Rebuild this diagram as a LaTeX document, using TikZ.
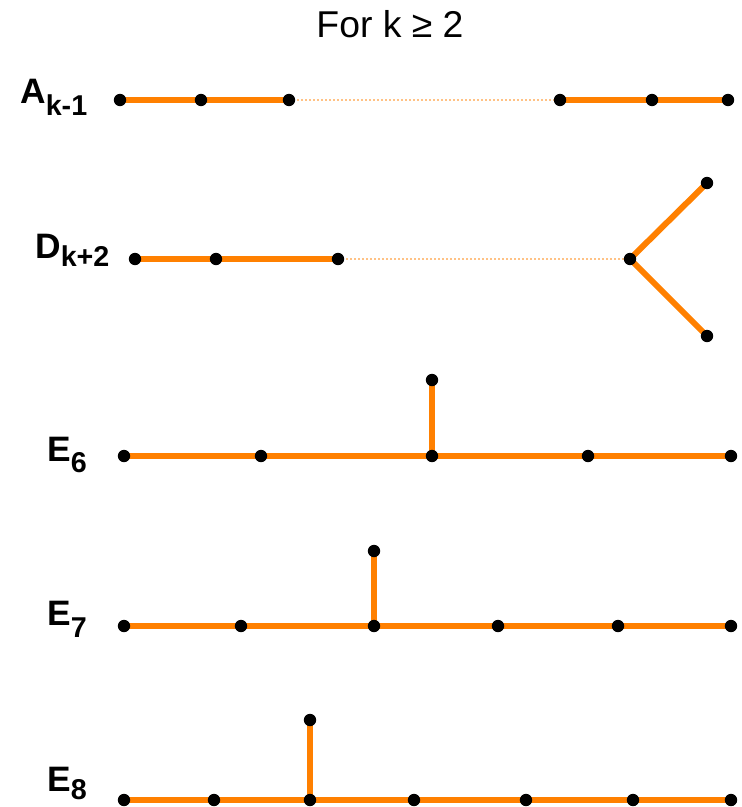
\documentclass[tikz,border=0pt]{standalone}
\usepackage{fontspec}
\setmainfont{Liberation Sans}
\usetikzlibrary{backgrounds}
\definecolor{edgeor}{HTML}{FF8000}
\definecolor{gapor}{HTML}{FFC285}
\newcommand{\lsub}[2]{\raisebox{-#1}{\fontsize{21.5}{21.5}\selectfont\bfseries #2}}
\begin{document}
\begin{tikzpicture}[x=0.75pt,y=-0.75pt,
  vtx/.style={circle,fill=black,inner sep=0pt,minimum size=9.3pt},
  bond/.style={draw=edgeor,line width=4.5pt},
  gapline/.style={draw=gapor,line width=1.1pt,dash pattern=on 1.5pt off 1.5pt},
  lbl/.style={anchor=base west,inner sep=0pt,font=\fontsize{26.5}{26.5}\selectfont\bfseries},
  ttl/.style={inner sep=0pt,font=\fontsize{28}{28}\selectfont}]
\useasboundingbox (0,0) rectangle (742,807);
\node[ttl] (title) at (390,24) {For k ≥ 2};

% A_{k-1}
\node[lbl] (la) at (20,103) {A\lsub{9pt}{k-1}};
\foreach \i/\x in {1/120,2/201,3/289,4/560,5/652,6/728}
  \node[vtx] (a\i) at (\x,100) {};
% D_{k+2}
\node[lbl] (ld) at (35,258) {D\lsub{6.5pt}{k+2}};
\foreach \i/\x in {1/135,2/216,3/338,4/630}
  \node[vtx] (d\i) at (\x,259) {};
\node[vtx] (d5) at (707,183) {};
\node[vtx] (d6) at (707,336) {};
% E6
\node[lbl] (le6) at (47,461.5) {E\lsub{8.5pt}{6}};
\foreach \i/\x in {1/124,2/261,3/432,4/588,5/731}
  \node[vtx] (e\i) at (\x,456) {};
\node[vtx] (e6) at (432,380) {};
% E7
\node[lbl] (le7) at (47,625) {E\lsub{9.5pt}{7}};
\foreach \i/\x in {1/124,2/241,3/374,4/498,5/618,6/731}
  \node[vtx] (f\i) at (\x,626) {};
\node[vtx] (f7) at (374,551) {};
% E8
\node[lbl] (le8) at (47,791) {E\lsub{6.5pt}{8}};
\foreach \i/\x in {1/124,2/214,3/310,4/414,5/526,6/633,7/731}
  \node[vtx] (g\i) at (\x,800) {};
\node[vtx] (g8) at (310,720) {};

\begin{scope}[on background layer]
  \draw[bond] (a1.center) -- (a2.center) -- (a3.center);
  \draw[gapline] (a3.center) -- (a4.center);
  \draw[bond] (a4.center) -- (a5.center) -- (a6.center);
  \draw[bond] (d1.center) -- (d2.center) -- (d3.center);
  \draw[gapline] (d3.center) -- (d4.center);
  \draw[bond] (d5.center) -- (d4.center) -- (d6.center);
  \draw[bond] (e1.center) -- (e2.center) -- (e3.center) -- (e4.center) -- (e5.center);
  \draw[bond] (e3.center) -- (e6.center);
  \draw[bond] (f1.center) -- (f2.center) -- (f3.center) -- (f4.center) -- (f5.center) -- (f6.center);
  \draw[bond] (f3.center) -- (f7.center);
  \draw[bond] (g1.center) -- (g2.center) -- (g3.center) -- (g4.center) -- (g5.center) -- (g6.center) -- (g7.center);
  \draw[bond] (g3.center) -- (g8.center);
\end{scope}
\end{tikzpicture}
\end{document}
